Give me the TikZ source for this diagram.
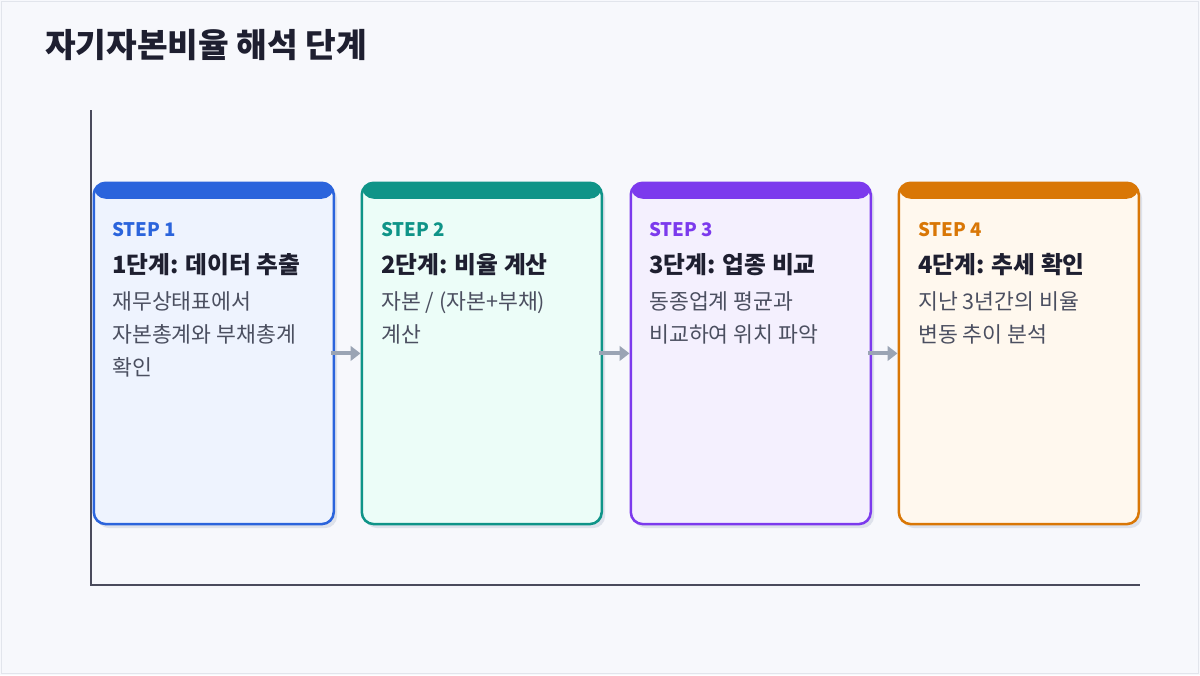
\documentclass[tikz,border=0pt]{standalone}
\usepackage{fontspec}
\setmainfont{Noto Sans CJK KR}
\usetikzlibrary{arrows.meta,positioning}
\definecolor{pagebg}{HTML}{F7F8FC}
\definecolor{pageframe}{HTML}{E2E5EC}
\definecolor{axisgray}{HTML}{4A4B5C}
\definecolor{titleink}{HTML}{1E1F30}
\definecolor{bodyink}{HTML}{4B4F60}
\definecolor{arrowgray}{HTML}{9AA4B4}
\definecolor{cardshadow}{HTML}{DEE2EB}
\definecolor{blueline}{HTML}{2B64DC}
\definecolor{bluebg}{HTML}{EEF3FE}
\definecolor{tealline}{HTML}{0F9488}
\definecolor{tealbg}{HTML}{ECFDF8}
\definecolor{purpleline}{HTML}{7C3AED}
\definecolor{purplebg}{HTML}{F4F0FE}
\definecolor{orangeline}{HTML}{D97706}
\definecolor{orangebg}{HTML}{FFF8EE}
\begin{document}
\begin{tikzpicture}[x=0.75pt, y=-0.75pt,
    card/.style={draw=#1line, fill=#1bg, line width=1.9pt, rounded corners=9pt,
      anchor=north west, minimum width=180pt, minimum height=256pt, inner sep=0,
      preaction={fill=cardshadow, transform canvas={shift={(2.5pt,-3pt)}}},
      path picture={\fill[#1line] (path picture bounding box.north west)
        rectangle ([yshift=-12pt]path picture bounding box.north east);}},
    steptag/.style={anchor=base west, inner sep=0, text=#1line,
      font=\fontsize{14}{16}\selectfont\bfseries},
    steptitle/.style={anchor=base west, inner sep=0, text=titleink,
      font=\fontsize{17.8}{20}\selectfont\bfseries},
    stepbody/.style={anchor=north west, inner sep=0, text=bodyink, align=left,
      font=\fontsize{16.2}{24.75}\selectfont},
    flow/.style={draw=arrowgray, line width=3pt, -{Triangle[length=7.5pt,width=11pt]}}]
  % page
  \fill[pagebg] (0,0) rectangle (1200,675);
  \draw[pageframe, line width=1pt] (1.5,1.5) rectangle (1198.5,673.5);
  \node[anchor=base west, inner sep=0, text=titleink,
    font=\fontsize{25}{30}\selectfont\bfseries] (heading) at (45,57) {자기자본비율 해석 단계};
  % axes
  \coordinate (axtop) at (91,110);
  \coordinate (origin) at (91,585);
  \coordinate (axend) at (1140,585);
  \draw[axisgray, line width=1.5pt] (axtop) -- (origin) -- (axend);
  % cards
  \node[card=blue] (s1) at (92.5,181.5) {};
  \node[card=teal] (s2) at (360.5,181.5) {};
  \node[card=purple] (s3) at (629.5,181.5) {};
  \node[card=orange] (s4) at (897.5,181.5) {};
  % arrows
  \draw[flow] ([xshift=-3pt]s1.east) -- (s2.west);
  \draw[flow] ([xshift=-3pt]s2.east) -- (s3.west);
  \draw[flow] ([xshift=-3pt]s3.east) -- (s4.west);
  % texts
  \node[steptag=blue] (t1) at (112,236) {STEP 1};
  \node[steptitle] (h1) at (112,273) {1단계: 데이터 추출};
  \node[stepbody] (b1) at (112,291) {재무상태표에서\\자본총계와 부채총계\\확인};
  \node[steptag=teal] (t2) at (381,236) {STEP 2};
  \node[steptitle] (h2) at (381,273) {2단계: 비율 계산};
  \node[stepbody] (b2) at (381,291) {자본 / (자본+부채)\\계산};
  \node[steptag=purple] (t3) at (649,236) {STEP 3};
  \node[steptitle] (h3) at (649,273) {3단계: 업종 비교};
  \node[stepbody] (b3) at (649,291) {동종업계 평균과\\비교하여 위치 파악};
  \node[steptag=orange] (t4) at (918,236) {STEP 4};
  \node[steptitle] (h4) at (918,273) {4단계: 추세 확인};
  \node[stepbody] (b4) at (918,291) {지난 3년간의 비율\\변동 추이 분석};
\end{tikzpicture}
\end{document}
